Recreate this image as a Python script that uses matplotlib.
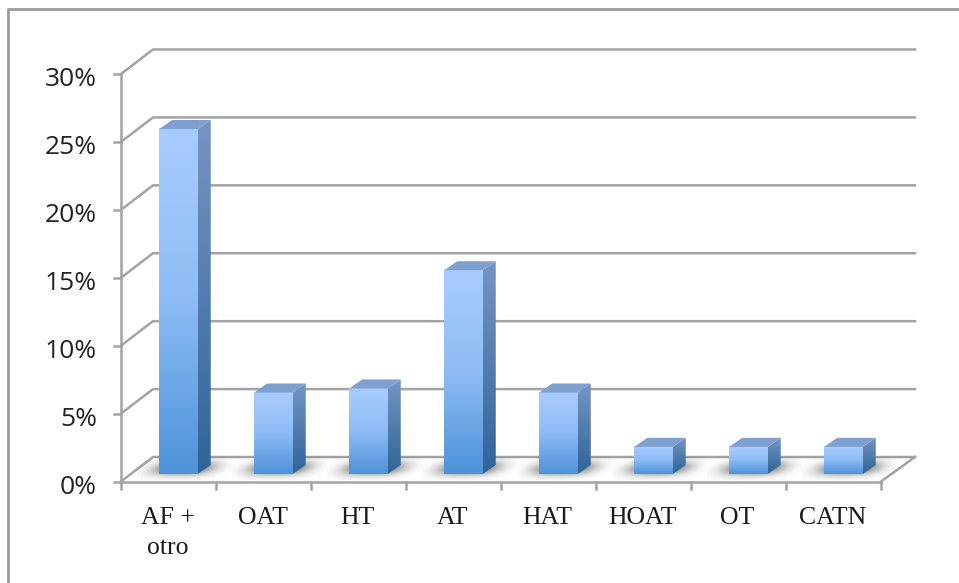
import numpy as np
import matplotlib
matplotlib.use('Agg')
import matplotlib.pyplot as plt
from matplotlib.colors import LinearSegmentedColormap
from matplotlib.patches import Polygon

# Porcentaje por categoria
categorias = ['AF +\notro', 'OAT', 'HT', 'AT', 'HAT', 'HOAT', 'OT', 'CATN']
valores = [25.4, 6.0, 6.3, 15.0, 6.0, 2.0, 2.0, 2.0]
ticks_y = [0, 5, 10, 15, 20, 25, 30]
etiquetas_y = ['0%', '5%', '10%', '15%', '20%', '25%', '30%']

W, H = 959, 583
fig = plt.figure(figsize=(W / 100, H / 100), dpi=100)

# ejes sobre el plano frontal del grafico
x0, x1, y_top, y_bot = 121, 881, 74, 481.5
ax = fig.add_axes([x0 / W, 1 - y_bot / H, (x1 - x0) / W, (y_bot - y_top) / H])
ax.set_xlim(0, len(categorias))
ax.set_ylim(0, 30)
ax.axis('off')

# pixeles a unidades de datos
px_x = len(categorias) / (x1 - x0)
px_y = 30 / (y_bot - y_top)

gris = '#a3a3a3'
lw = 1.8
prof_x, prof_y = 32 * px_x, 24.5 * px_y
n = len(categorias)

# pared, suelo y rejilla
for t in ticks_y:
    ax.plot([0, prof_x, n + prof_x + 2 * px_x], [t, t + prof_y, t + prof_y], color=gris, lw=lw, clip_on=False, zorder=1)
    ax.plot([-7 * px_x, 0], [t, t], color=gris, lw=lw, clip_on=False, zorder=1)
    ax.text(-24 * px_x, t - 6 * px_y, etiquetas_y[ticks_y.index(t)], ha='right', va='center',
            family='Open Sans', fontsize=19, color='#222222', clip_on=False)
ax.plot([0, 0], [0, 30], color=gris, lw=lw, clip_on=False, zorder=1)
ax.plot([0, n], [0, 0], color=gris, lw=lw, clip_on=False, zorder=1)
ax.plot([n, n + prof_x + 2 * px_x], [0, prof_y], color=gris, lw=lw, clip_on=False, zorder=1)
for i in range(n + 1):
    ax.plot([i, i], [0, -7 * px_y], color=gris, lw=lw, clip_on=False, zorder=1)

frente = LinearSegmentedColormap.from_list('frente', ['#a9ccff', '#8dbcf5', '#4e92d8'])
lado = LinearSegmentedColormap.from_list('lado', ['#7595c3', '#2f6499'])
grad = np.linspace(0, 1, 128).reshape(-1, 1)

base = 7.5 * px_y
ancho = 38.5 * px_x
dx, dy = 13 * px_x, 9 * px_y

# sombra difusa en el suelo, inclinada con la perspectiva
xs = np.linspace(-1, 1, 120)
ys = np.linspace(-1, 1, 50)
xx, yy = np.meshgrid(xs, ys)
sombra = np.exp(-np.abs((xx + 0.22 * yy) / 0.66) ** 3) * np.exp(-(yy / 0.62) ** 2) * 0.85
sombra_rgba = np.zeros(sombra.shape + (4,))
sombra_rgba[..., :3] = 0.36
sombra_rgba[..., 3] = sombra

for i, v in enumerate(valores):
    izq = i + 0.5 - ancho / 2 + 10 * px_x
    der = izq + ancho
    techo = base + v

    ax.imshow(sombra_rgba, extent=[izq - 22 * px_x, der + 34 * px_x, base - 6 * px_y, base + 18 * px_y],
              aspect='auto', zorder=2, clip_on=False, interpolation='bilinear')

    ax.imshow(grad, extent=[izq, der, base, techo], aspect='auto', cmap=frente, zorder=4)

    im = ax.imshow(grad, extent=[der, der + dx, base, techo + dy], aspect='auto', cmap=lado, zorder=4)
    cara = Polygon([(der, base), (der + dx, base + dy), (der + dx, techo + dy), (der, techo)],
                   transform=ax.transData, fc='none', ec='none')
    ax.add_patch(cara)
    im.set_clip_path(cara)

    ax.add_patch(Polygon([(izq, techo), (izq + dx, techo + dy), (der + dx, techo + dy), (der, techo)],
                         fc='#7f9fce', ec='none', zorder=4))

    ax.text(i + 0.5 - 1 * px_x, -25 * px_y, categorias[i], ha='center', va='top', family='Liberation Serif',
            fontsize=18.5, color='#1a1a1a', linespacing=1.5, clip_on=False)

ax.set_xlim(0, n)
ax.set_ylim(0, 30)

# marco exterior
fig.add_artist(plt.Line2D([8 / W, 8 / W, 1], [0, 1 - 8.5 / H, 1 - 8.5 / H], color='#9a9a9a', lw=2))

fig.savefig('out.png', dpi=100)
